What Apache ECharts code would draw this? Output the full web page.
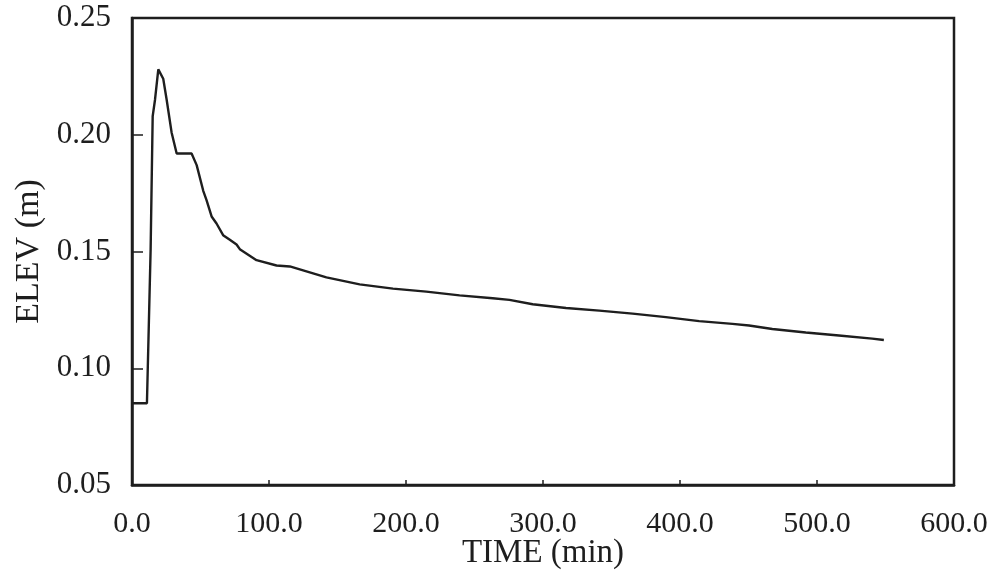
<!DOCTYPE html>
<html>
<head>
<meta charset="utf-8">
<script src="https://cdn.jsdelivr.net/npm/echarts@6/dist/echarts.min.js"></script>
<style>
  html, body { margin: 0; padding: 0; background: #fff; }
  #chart { width: 997px; height: 570px; }
</style>
</head>
<body>
<div id="chart"></div>
<script>
// time (min) and water elevation (m)
const timeMin = [0, 10.9, 13.6, 15.1, 16.8, 19.2, 22.8, 25.3, 28.9, 32.6, 43.5, 47.2, 52.0, 54.4, 58.1,
  61.7, 66.5, 71.4, 76.3, 78.7, 90.9, 105.5, 115.2, 141.9, 166.2, 190.5, 214.8, 239.1, 263.3, 275.5,
  292.5, 316.8, 341.1, 365.4, 389.7, 414.0, 438.3, 450.4, 467.4, 491.8, 516.0, 540.3, 548.8]
const elevM = [0.085, 0.085, 0.151, 0.208, 0.215, 0.228, 0.224, 0.215, 0.201, 0.192, 0.192, 0.187, 0.176, 0.172, 0.165,
  0.162, 0.157, 0.155, 0.153, 0.151, 0.1463, 0.1440, 0.1436, 0.1389, 0.1359, 0.1341, 0.1328, 0.1312, 0.1300, 0.1293,
  0.1274, 0.1258, 0.1247, 0.1234, 0.1219, 0.1202, 0.1190, 0.1183, 0.1168, 0.1153, 0.1140, 0.1127, 0.1121]

const xTicks = [0, 100, 200, 300, 400, 500, 600]
const yTicks = [0.05, 0.10, 0.15, 0.20, 0.25]

const ink = '#1e1e1e'
const font = '"Liberation Serif", "DejaVu Serif", serif'

const chart = echarts.init(document.getElementById('chart'))
chart.setOption({
  animation: false,
  backgroundColor: '#fff',
  grid: {
    left: 132, right: 43, top: 18, bottom: 85,
    outerBoundsMode: 'none',
    show: true, borderColor: ink, borderWidth: 2.5
  },
  xAxis: {
    type: 'value',
    min: xTicks[0], max: xTicks[xTicks.length - 1], interval: 100,
    name: 'TIME (min)',
    nameLocation: 'middle',
    nameGap: 52,
    nameMoveOverlap: false,
    nameTextStyle: { fontFamily: font, fontSize: 33, color: ink },
    axisLine: { show: true, lineStyle: { color: ink, width: 2.5 } },
    axisTick: { show: true, inside: true, length: 5, lineStyle: { color: ink, width: 1.5 } },
    axisLabel: {
      margin: 24, fontFamily: font, fontSize: 30, color: ink,
      formatter: v => v.toFixed(1)
    },
    splitLine: { show: false }
  },
  yAxis: {
    type: 'value',
    min: yTicks[0], max: yTicks[yTicks.length - 1], interval: 0.05,
    name: 'ELEV (m)',
    nameLocation: 'middle',
    nameGap: 86,
    nameMoveOverlap: false,
    nameTextStyle: { fontFamily: font, fontSize: 34, color: ink },
    axisLine: { show: true, lineStyle: { color: ink, width: 2.5 } },
    axisTick: { show: true, inside: true, length: 11, lineStyle: { color: ink, width: 1.5 } },
    axisLabel: {
      margin: 21, fontFamily: font, fontSize: 31, color: ink,
      formatter: v => v.toFixed(2)
    },
    splitLine: { show: false }
  },
  series: [{
    type: 'line',
    data: timeMin.map((t, i) => [t, elevM[i]]),
    showSymbol: false,
    lineStyle: { color: ink, width: 2.4 }
  }]
})
</script>
</body>
</html>
